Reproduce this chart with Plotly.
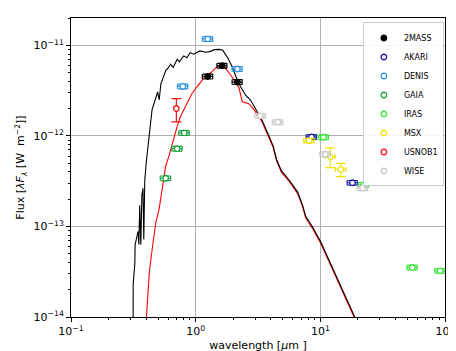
import plotly.graph_objects as go

# ---------------- model spectra ----------------
model_wl = [0.315, 0.3155, 0.325, 0.327, 0.3454, 0.3505, 0.3556, 0.3633, 0.370, 0.378,
            0.3836, 0.3906, 0.4013, 0.4137, 0.4259, 0.447, 0.4955, 0.510, 0.526, 0.5755,
            0.600, 0.630, 0.660, 0.711, 0.740, 0.801, 0.850, 0.904, 0.960, 1.083, 1.200,
            1.297, 1.419, 1.553, 1.649, 1.804, 1.975, 2.161, 2.298, 2.515, 2.752, 3.011,
            3.393, 3.83, 4.19, 4.447, 4.868, 5.664, 6.58, 7.20, 7.64, 8.62, 10.02, 18.84, 21.0]
model_flux = [9e-15, 2.32e-14, 3.84e-14, 6.33e-14, 8.83e-14, 6.33e-14, 1.72e-13, 6.3e-14, 2.21e-13, 2.64e-13,
              7.16e-14, 3.22e-13, 5.09e-13, 7.73e-13, 1.08e-12, 1.95e-12, 3.06e-12, 2.51e-12, 3.77e-12, 5.27e-12,
              5.6e-12, 6.21e-12, 5.7e-12, 7.05e-12, 6.6e-12, 7.67e-12, 7.3e-12, 8.33e-12, 8.0e-12, 8.69e-12, 8.4e-12,
              8.54e-12, 8.98e-12, 9.05e-12, 8.83e-12, 7.35e-12, 5.72e-12, 4.10e-12, 3.47e-12, 2.82e-12, 2.49e-12, 2.01e-12,
              1.51e-12, 1.035e-12, 7.73e-13, 5.54e-13, 4.13e-13, 3.22e-13, 2.40e-13, 1.72e-13, 1.285e-13, 1.0e-13, 6.87e-14, 1.01e-14, 7.3e-15]

red_wl = [0.401, 0.4137, 0.4259, 0.453, 0.4806, 0.510, 0.5424, 0.5755, 0.611, 0.6498,
          0.711, 0.7546, 0.8518, 0.932, 1.020, 1.149, 1.337, 1.463, 1.601, 1.753,
          1.918, 2.099, 2.228, 2.365, 2.669, 2.921, 3.393, 3.83, 4.19, 4.447,
          4.868, 5.664, 6.58, 7.20, 7.64, 8.62, 10.02, 18.84, 21.0]
red_flux = [9e-15, 1.68e-14, 3.24e-14, 6.33e-14, 1.133e-13, 1.585e-13, 2.61e-13, 4.69e-13, 6.02e-13, 8.39e-13,
            1.275e-12, 1.64e-12, 2.29e-12, 2.93e-12, 3.47e-12, 4.27e-12, 5.05e-12, 5.72e-12, 5.97e-12, 5.49e-12,
            4.65e-12, 3.94e-12, 3.38e-12, 2.38e-12, 2.27e-12, 1.98e-12, 1.45e-12, 1.0e-12, 7.45e-13, 5.35e-13,
            3.98e-13, 3.1e-13, 2.31e-13, 1.66e-13, 1.24e-13, 9.6e-14, 6.6e-14, 9.7e-15, 7.0e-15]

# ---------------- photometry ----------------
twomass_wl = [1.25, 1.63, 2.16]
twomass_wl_err = [0.12, 0.15, 0.20]
twomass_flux = [4.54e-12, 5.97e-12, 3.94e-12]
twomass_flux_err = [0.28e-12, 0.36e-12, 0.24e-12]

akari_wl = [8.5, 18.1]
akari_wl_err = [0.8, 1.7]
akari_flux = [9.75e-13, 3.04e-13]
akari_flux_err = [0.58e-13, 0.18e-13]

denis_wl = [0.79, 1.25, 2.16]
denis_wl_err = [0.075, 0.12, 0.20]
denis_flux = [3.53e-12, 1.18e-11, 5.49e-12]
denis_flux_err = [0.21e-12, 0.7e-12, 0.33e-12]

gaia_wl = [0.575, 0.71, 0.81]
gaia_wl_err = [0.055, 0.068, 0.078]
gaia_flux = [3.41e-13, 7.23e-13, 1.08e-12]
gaia_flux_err = [0.2e-13, 0.43e-13, 0.65e-13]

iras_wl = [10.6, 22.3, 54.7, 91.6]
iras_wl_err = [1.0, 2.1, 5.2, 8.7]
iras_flux = [9.68e-13, 2.89e-13, 3.53e-14, 3.24e-14]
iras_flux_err = [0.58e-13, 0.17e-13, 0.21e-14, 0.19e-14]

msx_wl = [8.13, 12.0, 14.6]
msx_wl_err = [0.78, 1.15, 1.4]
msx_flux = [8.9e-13, 5.92e-13, 4.27e-13]
msx_flux_err = [0.53e-13, 1.46e-13, 0.72e-13]

usnob1_wl = [0.70]
usnob1_wl_err = [0.01]
usnob1_flux = [2.01e-12]
usnob1_flux_err = [0.58e-12]

wise_wl = [3.3, 4.56, 10.97, 21.8]
wise_wl_err = [0.32, 0.44, 1.05, 2.1]
wise_flux = [1.67e-12, 1.42e-12, 6.28e-13, 2.65e-13]
wise_flux_err = [0.1e-12, 0.085e-12, 0.38e-13, 0.16e-13]

# tick labels
x_tickvals = [0.1, 1, 10, 100]
x_ticktext = ["10<sup>−1</sup>", "10<sup>0</sup>", "10<sup>1</sup>", "10<sup>2</sup>"]
y_tickvals = [1e-14, 1e-13, 1e-12, 1e-11]
y_ticktext = ["10<sup>−14</sup>", "10<sup>−13</sup>", "10<sup>−12</sup>", "10<sup>−11</sup>"]
x_minor = [0.2, 0.3, 0.4, 0.5, 0.6, 0.7, 0.8, 0.9, 2, 3, 4, 5, 6, 7, 8, 9,
           20, 30, 40, 50, 60, 70, 80, 90]
y_minor = [2e-14, 3e-14, 4e-14, 5e-14, 6e-14, 7e-14, 8e-14, 9e-14,
           2e-13, 3e-13, 4e-13, 5e-13, 6e-13, 7e-13, 8e-13, 9e-13,
           2e-12, 3e-12, 4e-12, 5e-12, 6e-12, 7e-12, 8e-12, 9e-12, 2e-11]

fig = go.Figure()
fig.add_trace(go.Scatter(x=red_wl, y=red_flux, mode="lines",
                         line=dict(color="#ff0000", width=1.1), showlegend=False, hoverinfo="skip"))
fig.add_trace(go.Scatter(x=model_wl, y=model_flux, mode="lines",
                         line=dict(color="#000000", width=1.1), showlegend=False, hoverinfo="skip"))

surveys = [
    ("2MASS", twomass_wl, twomass_wl_err, twomass_flux, twomass_flux_err, "#000000", True),
    ("AKARI", akari_wl, akari_wl_err, akari_flux, akari_flux_err, "#1c1ca8", False),
    ("DENIS", denis_wl, denis_wl_err, denis_flux, denis_flux_err, "#2b93dc", False),
    ("GAIA", gaia_wl, gaia_wl_err, gaia_flux, gaia_flux_err, "#1f9e3e", False),
    ("IRAS", iras_wl, iras_wl_err, iras_flux, iras_flux_err, "#33e633", False),
    ("MSX", msx_wl, msx_wl_err, msx_flux, msx_flux_err, "#eee200", False),
    ("USNOB1", usnob1_wl, usnob1_wl_err, usnob1_flux, usnob1_flux_err, "#f01414", False),
    ("WISE", wise_wl, wise_wl_err, wise_flux, wise_flux_err, "#c8c8c8", False),
]
for name, wl, wle, fl, fle, col, filled in surveys:
    fig.add_trace(go.Scatter(
        x=wl, y=fl, mode="markers", name=name,
        marker=dict(symbol="circle", size=5.5, color=col if filled else "white",
                    line=dict(color=col, width=1.3)),
        error_x=dict(type="data", array=wle, color=col, thickness=1.2, width=2.5),
        error_y=dict(type="data", array=fle, color=col, thickness=1.2, width=5),
    ))

axis_common = dict(
    showline=True, linecolor="black", linewidth=1, mirror=True,
    showgrid=True, gridcolor="#b0b0b0", gridwidth=1,
    ticks="outside", ticklen=4, tickwidth=1, tickcolor="black",
    zeroline=False,
    tickfont=dict(family="DejaVu Sans", size=11, color="black"),
    title_font=dict(family="DejaVu Sans", size=11, color="black"),
)

fig.update_xaxes(type="log", range=[-1, 2], tickmode="array",
                 tickvals=x_tickvals, ticktext=x_ticktext,
                 minor=dict(tickmode="array", tickvals=x_minor, ticks="outside", ticklen=2,
                            tickwidth=0.8, tickcolor="black", showgrid=False),
                 title=dict(text="wavelength [<i>μ</i>m ]", standoff=4), **axis_common)
fig.update_yaxes(type="log", range=[-14, -10.697], tickmode="array",
                 tickvals=y_tickvals, ticktext=y_ticktext,
                 minor=dict(tickmode="array", tickvals=y_minor, ticks="outside", ticklen=2,
                            tickwidth=0.8, tickcolor="black", showgrid=False),
                 title=dict(text="Flux [<i>λF<sub>λ</sub></i> [W\u00a0\u00a0m<sup>−2</sup>]]", standoff=6),
                 **axis_common)

fig.update_layout(
    width=456, height=351,
    margin=dict(l=63, r=11, t=9, b=38),
    paper_bgcolor="white", plot_bgcolor="white",
    font=dict(family="DejaVu Sans", size=11, color="black"),
    legend=dict(x=0.997, y=0.985, xanchor="right", yanchor="top",
                bgcolor="rgba(255,255,255,0.9)", bordercolor="#cccccc", borderwidth=1,
                font=dict(family="DejaVu Sans", size=8, color="black"),
                itemwidth=30, tracegroupgap=0),
    showlegend=True,
)

fig.write_html("out.html")
